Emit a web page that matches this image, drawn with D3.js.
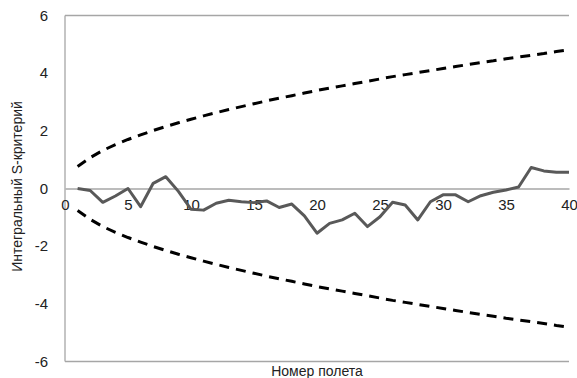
<!DOCTYPE html>
<html>
<head>
<meta charset="utf-8">
<script src="https://cdn.jsdelivr.net/npm/d3@7/dist/d3.min.js"></script>
<style>
  html, body { margin: 0; padding: 0; background: #fff; }
  svg { display: block; }
  text { font-family: "Liberation Sans", Arial, sans-serif; fill: #222; }
</style>
</head>
<body>
<svg id="chart" width="577" height="378"></svg>
<script>
(function () {
// ---- data ----
const flights = d3.range(1, 41);
const sValues = [0.00, -0.07, -0.48, -0.26, 0.00, -0.63, 0.18, 0.41, -0.10, -0.72,
                 -0.75, -0.51, -0.41, -0.46, -0.49, -0.43, -0.66, -0.54, -0.95, -1.55,
                 -1.21, -1.09, -0.86, -1.32, -0.98, -0.48, -0.57, -1.09, -0.46, -0.22,
                 -0.22, -0.46, -0.25, -0.13, -0.05, 0.05, 0.73, 0.61, 0.56, 0.56];
const upperBound = [0.76, 1.07, 1.32, 1.52, 1.70, 1.86, 2.01, 2.15, 2.28, 2.40,
                    2.52, 2.63, 2.74, 2.84, 2.94, 3.04, 3.13, 3.22, 3.31, 3.40,
                    3.48, 3.56, 3.64, 3.72, 3.80, 3.88, 3.95, 4.02, 4.09, 4.16,
                    4.23, 4.30, 4.37, 4.43, 4.50, 4.56, 4.62, 4.68, 4.75, 4.81];
const lowerBound = [-0.76, -1.07, -1.32, -1.52, -1.70, -1.86, -2.01, -2.15, -2.28, -2.40,
                    -2.52, -2.63, -2.74, -2.84, -2.94, -3.04, -3.13, -3.22, -3.31, -3.40,
                    -3.48, -3.56, -3.64, -3.72, -3.80, -3.88, -3.95, -4.02, -4.09, -4.16,
                    -4.23, -4.30, -4.37, -4.43, -4.50, -4.56, -4.62, -4.68, -4.75, -4.81];
const xTicks = [0, 5, 10, 15, 20, 25, 30, 35, 40];
const yTicks = [-6, -4, -2, 0, 2, 4, 6];
const xTitle = "Номер полета";
const yTitle = "Интегральный S-критерий";

// ---- layout ----
const svg = d3.select("#chart");
const mLeft = 65, mRight = 569, mTop = 15.5, mBottom = 361.5;
const x = d3.scaleLinear().domain([0, 40]).range([mLeft, mRight]);
const y = d3.scaleLinear().domain([-6, 6]).range([mBottom, mTop]);

const gridColor = "#a6a6a6";

// frame: top, bottom, left
svg.append("line").attr("x1", mLeft).attr("x2", mRight).attr("y1", y(6)).attr("y2", y(6))
  .attr("stroke", gridColor).attr("stroke-width", 1.3);
svg.append("line").attr("x1", mLeft).attr("x2", mRight).attr("y1", y(-6)).attr("y2", y(-6))
  .attr("stroke", gridColor).attr("stroke-width", 1.3);
svg.append("line").attr("x1", mLeft).attr("x2", mLeft).attr("y1", y(6)).attr("y2", y(-6))
  .attr("stroke", gridColor).attr("stroke-width", 1.3);

// y axis labels
const yAxis = d3.axisLeft(y).tickValues(yTicks).tickSize(0).tickPadding(17)
  .tickFormat(d => String(d));
const gy = svg.append("g").attr("transform", `translate(${mLeft},0)`).call(yAxis);
gy.select(".domain").remove();
gy.selectAll("text").style("font-size", "15px").attr("fill", "#222")
  .style("font-family", "'Liberation Sans', Arial, sans-serif");

// x axis at zero
const xAxis = d3.axisBottom(x).tickValues(xTicks).tickSize(0).tickPadding(11)
  .tickFormat(d => String(d));
const gx = svg.append("g").attr("transform", `translate(0,${y(0)})`).call(xAxis);
gx.select(".domain").attr("stroke", gridColor).attr("stroke-width", 1.3);
gx.selectAll("text").style("font-size", "15px").attr("fill", "#222")
  .style("font-family", "'Liberation Sans', Arial, sans-serif");

// lines
const line = d3.line().x((d, i) => x(flights[i])).y(d => y(d));

svg.append("path").datum(upperBound).attr("d", line)
  .attr("fill", "none").attr("stroke", "#000").attr("stroke-width", 3)
  .attr("stroke-dasharray", "10,7");
svg.append("path").datum(lowerBound).attr("d", line)
  .attr("fill", "none").attr("stroke", "#000").attr("stroke-width", 3)
  .attr("stroke-dasharray", "10,7");
svg.append("path").datum(sValues).attr("d", line)
  .attr("fill", "none").attr("stroke", "#595959").attr("stroke-width", 3)
  .attr("stroke-linejoin", "round");

// titles
svg.append("text").attr("x", (mLeft + mRight) / 2).attr("y", 376)
  .attr("text-anchor", "middle").style("font-size", "14px").text(xTitle);
svg.append("text").attr("transform", `translate(22,${(mTop + mBottom) / 2 - 2}) rotate(-90)`)
  .attr("text-anchor", "middle").style("font-size", "14px").text(yTitle);
})();
</script>
</body>
</html>
